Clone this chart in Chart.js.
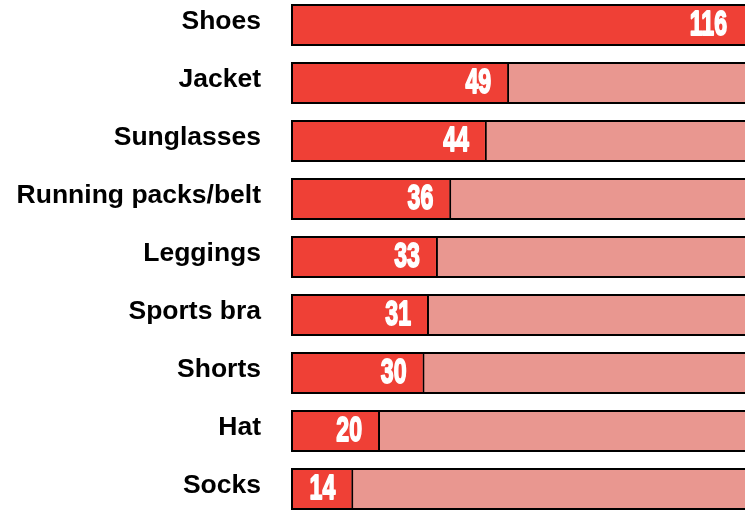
<!DOCTYPE html>
<html>
<head>
<meta charset="utf-8">
<script src="https://cdn.jsdelivr.net/npm/chart.js@4.4.1/dist/chart.umd.min.js"></script>
<style>
  html, body { margin: 0; padding: 0; background: #fff; overflow: hidden; }
  #wrap { position: absolute; left: 0; top: -4px; width: 745px; height: 522px; }
</style>
</head>
<body>
<div id="wrap"><canvas id="gear"></canvas></div>
<script>
// running gear counts
const items = ['Shoes', 'Jacket', 'Sunglasses', 'Running packs/belt', 'Leggings',
               'Sports bra', 'Shorts', 'Hat', 'Socks'];
const counts = [116, 49, 44, 36, 33, 31, 30, 20, 14];
// full-length track behind every bar (top count)
const track = [116, 116, 116, 116, 116, 116, 116, 116, 116];

const RED = '#EF4036';
const PINK = '#E99790';

// white count drawn inside the end of each red bar, squeezed to look condensed
const valueLabels = {
  id: 'valueLabels',
  afterDatasetsDraw(chart) {
    const { ctx, chartArea } = chart;
    const meta = chart.getDatasetMeta(0);
    ctx.save();
    ctx.fillStyle = '#fff';
    ctx.strokeStyle = '#fff';
    ctx.lineWidth = 1.8;
    ctx.lineJoin = 'round';
    ctx.font = 'bold 35px "Liberation Sans"';
    ctx.textAlign = 'right';
    ctx.textBaseline = 'alphabetic';
    meta.data.forEach((bar, i) => {
      const x = Math.min(bar.x, chartArea.right) - 18;
      ctx.save();
      ctx.translate(x, bar.y + 10);
      ctx.scale(0.66, 1);
      ctx.fillText(String(counts[i]), 0, 0);
      ctx.strokeText(String(counts[i]), 0, 0);
      ctx.restore();
    });
    ctx.restore();
  }
};

new Chart(document.getElementById('gear'), {
  type: 'bar',
  data: {
    labels: items,
    datasets: [
      {
        data: counts,
        backgroundColor: RED,
        borderColor: '#000',
        borderWidth: 2,
        borderSkipped: false,
        grouped: false,
        order: 0,
        barPercentage: 0.72,
        categoryPercentage: 1
      },
      {
        data: track,
        backgroundColor: PINK,
        borderColor: '#000',
        borderWidth: 2,
        borderSkipped: false,
        grouped: false,
        order: 1,
        barPercentage: 0.72,
        categoryPercentage: 1
      }
    ]
  },
  options: {
    indexAxis: 'y',
    responsive: true,
    maintainAspectRatio: false,
    animation: false,
    layout: { padding: 0 },
    plugins: {
      legend: { display: false },
      tooltip: { enabled: false }
    },
    scales: {
      x: {
        display: false,
        min: 0,
        max: 102
      },
      y: {
        grid: { display: false, drawTicks: false },
        border: { display: false },
        // fixed gutter for the names, and no extra room above/below the rows
        afterFit: (scale) => {
          scale.width = 291;
          scale.paddingTop = 0;
          scale.paddingBottom = 0;
        },
        ticks: {
          padding: 30,
          labelOffset: -3,
          color: '#000',
          font: { family: '"Liberation Sans", Arial, sans-serif', size: 26.5, weight: 'bold' }
        }
      }
    }
  },
  plugins: [valueLabels]
});
</script>
</body>
</html>
